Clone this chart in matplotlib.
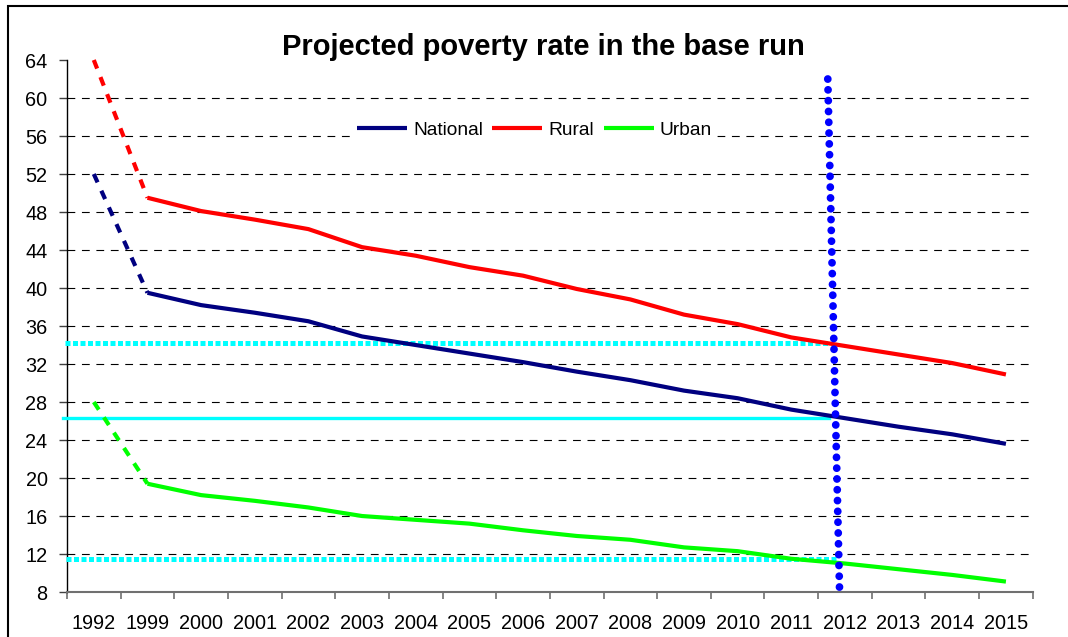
import matplotlib
matplotlib.use("Agg")
import matplotlib.pyplot as plt
from matplotlib.patches import Rectangle
import numpy as np

plt.rcParams['font.family'] = ['Liberation Sans', 'DejaVu Sans']

years = ["1992", "1999", "2000", "2001", "2002", "2003", "2004", "2005", "2006",
         "2007", "2008", "2009", "2010", "2011", "2012", "2013", "2014", "2015"]
national = [52.0, 39.5, 38.2, 37.4, 36.5, 34.9, 34.0, 33.1, 32.2, 31.2, 30.3,
            29.2, 28.4, 27.2, 26.3, 25.4, 24.6, 23.6]
rural = [64.0, 49.5, 48.1, 47.2, 46.2, 44.3, 43.4, 42.2, 41.3, 39.9, 38.8,
         37.2, 36.2, 34.8, 33.9, 33.0, 32.1, 30.9]
urban = [28.0, 19.4, 18.2, 17.6, 16.9, 16.0, 15.6, 15.2, 14.5, 13.9, 13.5,
         12.7, 12.3, 11.5, 11.0, 10.4, 9.8, 9.1]

# reference lines (in category-index units / percent)
ref_rural_level = 34.2
ref_national_level = 26.3
ref_urban_level = 11.5
ref_x_start = [-0.54, -0.57, -0.52]
ref_x_end = [13.68, 13.71, 13.86]
vline_x = [13.68, 13.90]
vline_y = [62.0, 8.0]

fig = plt.figure(figsize=(10.68, 6.37), dpi=100)
ax = fig.add_axes([0.0627, 0.0706, 0.967 - 0.0627, 0.9058 - 0.0706])

x = np.arange(len(years))
series = [("National", national, "#000080"),
          ("Rural", rural, "#FF0000"),
          ("Urban", urban, "#00FF00")]

handles = []
for name, vals, col in series:
    ax.plot(x[:2], vals[:2], color=col, lw=3, linestyle=(0, (2.2, 2.2)),
            dash_capstyle='butt', zorder=4, clip_on=False)
    h, = ax.plot(x[1:], vals[1:], color=col, lw=3, zorder=4,
                 solid_capstyle='butt', solid_joinstyle='round', label=name)
    handles.append(h)

# cyan reference lines
dot_style = (0, (1.0, 0.5))
ax.plot([ref_x_start[0], ref_x_end[0]], [ref_rural_level] * 2, color="#00FFFF",
        lw=3.6, linestyle=dot_style, dash_capstyle='butt', zorder=3, clip_on=False)
ax.plot([ref_x_start[1], ref_x_end[1]], [ref_national_level] * 2, color="#00FFFF",
        lw=2.4, zorder=3, clip_on=False)
ax.plot([ref_x_start[2], ref_x_end[2]], [ref_urban_level] * 2, color="#00FFFF",
        lw=3.6, linestyle=dot_style, dash_capstyle='butt', zorder=3, clip_on=False)

# blue dotted vertical marker
ax.plot(vline_x, vline_y, color="#0000FF", lw=5.6, linestyle=(0, (0.01, 1.38)),
        dash_capstyle='round', zorder=5, clip_on=False)

ax.set_xlim(-0.5, len(years) - 0.5)
ax.set_ylim(8, 64)
ax.set_yticks(np.arange(8, 65, 4))
ax.set_xticks(x)
ax.set_xticklabels(years)
ax.set_xticks(np.arange(-0.5, len(years), 1.0), minor=True)

for yv in np.arange(12, 61, 4):
    ax.axhline(yv, color='black', lw=0.8, linestyle=(0, (7, 6)), zorder=1)

ax.tick_params(axis='x', which='major', length=0, pad=16, labelsize=14.3)
ax.tick_params(axis='x', which='minor', length=5, width=1.2, color='#707070')
ax.tick_params(axis='y', which='major', length=6, width=1.0, color='#404040',
               pad=8, labelsize=14.3)

for s in ['top', 'right']:
    ax.spines[s].set_visible(False)
ax.spines['left'].set_color('black')
ax.spines['left'].set_linewidth(1.0)
ax.spines['bottom'].set_color('#707070')
ax.spines['bottom'].set_linewidth(1.5)

leg = fig.legend(handles=handles, loc='center', bbox_to_anchor=(534.5 / 1068, 1 - 130 / 637),
                 ncol=3, frameon=True, fontsize=13.8, handlelength=2.6,
                 handletextpad=0.33, columnspacing=0.5, borderpad=0.2)
leg.get_frame().set_facecolor('white')
leg.get_frame().set_edgecolor('white')
leg.get_frame().set_alpha(1.0)

fig.text(543 / 1068, 1 - 47 / 637, "Projected poverty rate in the base run",
         ha='center', va='center', fontsize=21, fontweight='bold')

fig.add_artist(Rectangle((8 / 1068, -0.1), 1.2, 1 - 6 / 637 + 0.1,
                         transform=fig.transFigure, fill=False,
                         edgecolor='black', lw=1.5))

fig.savefig("out.png", dpi=100)
